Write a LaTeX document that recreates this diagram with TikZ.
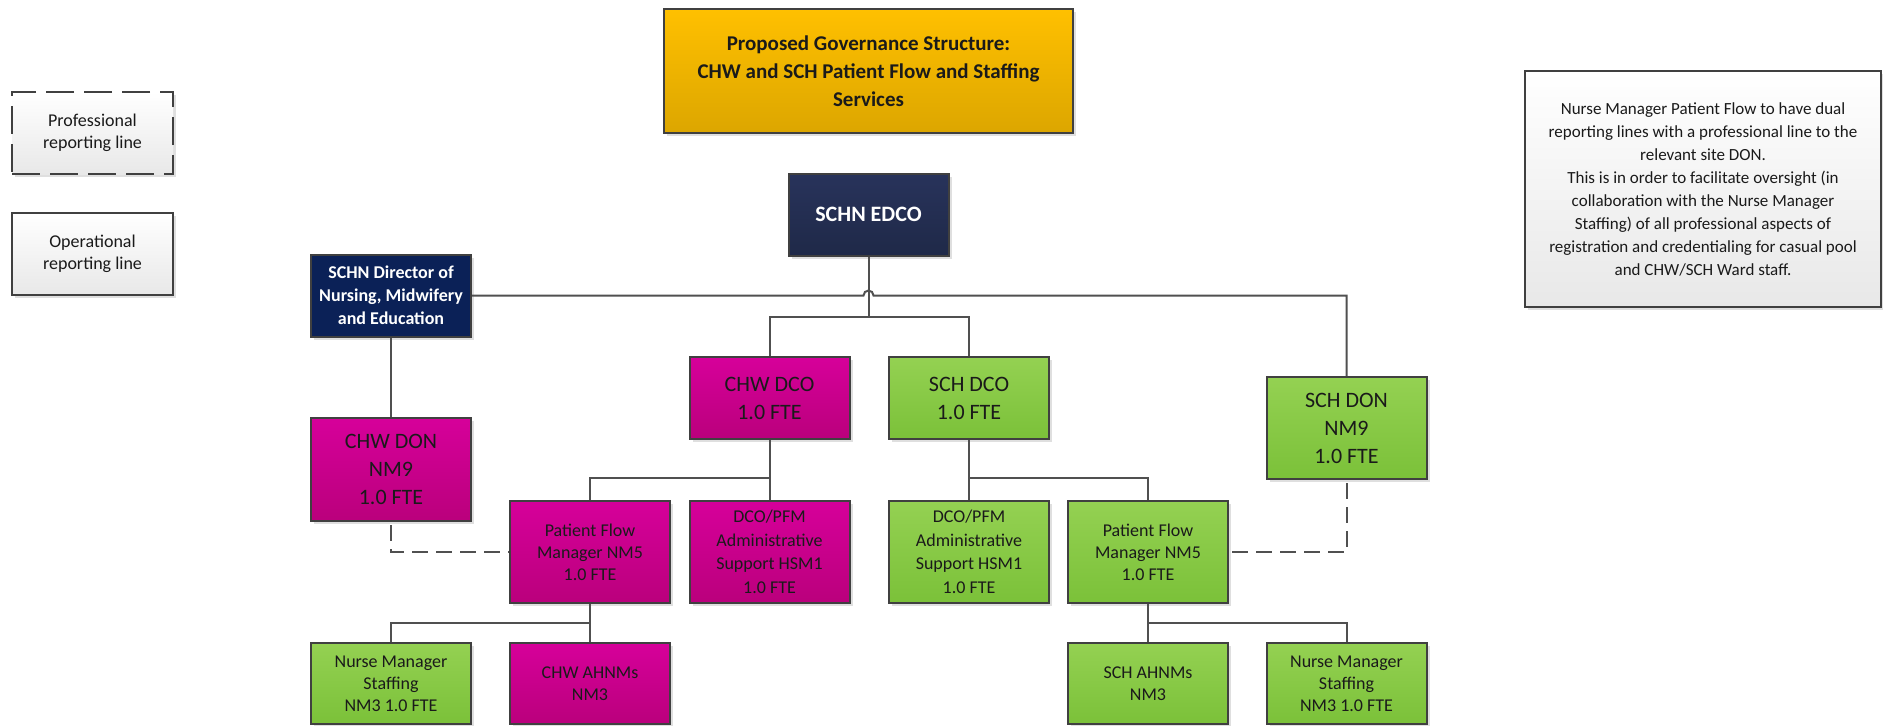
\documentclass[tikz,border=0pt]{standalone}
\usepackage{fontspec}
\setmainfont{Carlito}
\usetikzlibrary{shadows,calc}

\definecolor{boxline}{HTML}{404040}
\definecolor{wire}{HTML}{505050}
\definecolor{goldtop}{HTML}{FFC000}
\definecolor{goldbot}{HTML}{DCA600}
\definecolor{navytop}{HTML}{28335B}
\definecolor{navybot}{HTML}{1F2948}
\definecolor{deepblue}{HTML}{0B2157}
\definecolor{magtop}{HTML}{D6009A}
\definecolor{magbot}{HTML}{BA007C}
\definecolor{grntop}{HTML}{94D152}
\definecolor{grnbot}{HTML}{7BC139}
\definecolor{paletop}{HTML}{FFFFFF}
\definecolor{palebot}{HTML}{E8E8E8}
\definecolor{ink}{HTML}{1A1A1A}

\begin{document}
\begin{tikzpicture}[x=0.5pt,y=-0.5pt,
  base/.style={draw=boxline, line width=1pt, align=center, inner sep=2pt, text=ink,
    drop shadow={opacity=0.25, shadow xshift=1.5pt, shadow yshift=-1.5pt}},
  gold/.style={base, top color=goldtop, bottom color=goldbot},
  navy/.style={base, top color=navytop, bottom color=navybot, text=white},
  dblue/.style={base, fill=deepblue, text=white},
  mag/.style={base, top color=magtop, bottom color=magbot},
  grn/.style={base, top color=grntop, bottom color=grnbot},
  pale/.style={base, top color=paletop, bottom color=palebot},
  bigtxt/.style={font=\fontsize{11}{14}\selectfont},
  smalltxt/.style={font=\fontsize{9}{11}\selectfont},
  short/.style={minimum width=80pt, minimum height=41pt},
  tall/.style={minimum width=80pt, minimum height=51pt},
  conn/.style={draw=wire, line width=1pt},
  profline/.style={draw=wire, line width=1pt, dash pattern=on 8pt off 4pt},
]
\useasboundingbox (0,0) rectangle (1883,725);

% heading and legend
\node[gold, minimum width=204.5pt, minimum height=62pt,
      font=\bfseries\fontsize{10.5}{14}\selectfont] (title) at (868.5,71)
  {Proposed Governance Structure:\\CHW and SCH Patient Flow and Staffing\\Services};
\node[pale, smalltxt, minimum width=80.5pt, minimum height=41pt,
      dash pattern=on 14pt off 5pt] (legprof) at (92.5,133) {Professional\\reporting line};
\node[pale, smalltxt, minimum width=80.5pt, minimum height=41pt] (legoper) at (92.5,254)
  {Operational\\reporting line};
\node[pale, font=\fontsize{8.5}{11.5}\selectfont, minimum width=178pt, minimum height=118pt]
  (note) at (1703,189)
  {Nurse Manager Patient Flow to have dual\\reporting lines with a professional line to the\\relevant site DON.\\This is in order to facilitate oversight (in\\collaboration with the Nurse Manager\\Staffing) of all professional aspects of\\registration and credentialing for casual pool\\and CHW/SCH Ward staff.};

% top of the structure
\node[navy, short, font=\bfseries\fontsize{11}{14}\selectfont] (edco) at (868.5,214.5) {SCHN EDCO};
\node[dblue, short, font=\bfseries\fontsize{9}{11.5}\selectfont] (dir) at (391,295.5)
  {SCHN Director of\\Nursing, Midwifery\\and Education};

% second tier
\node[mag, short, bigtxt] (chwdco) at (769.5,398) {CHW DCO\\1.0 FTE};
\node[grn, short, bigtxt] (schdco) at (969,398) {SCH DCO\\1.0 FTE};
\node[mag, minimum width=80pt, minimum height=51.5pt, bigtxt] (chwdon) at (391,469.5) {CHW DON\\NM9\\1.0 FTE};
\node[grn, tall, bigtxt] (schdon) at (1346.5,428) {SCH DON\\NM9\\1.0 FTE};

% third tier
\node[mag, tall, smalltxt] (chwpfm) at (590,552) {Patient Flow\\Manager NM5\\1.0 FTE};
\node[mag, tall, font=\fontsize{9}{11.8}\selectfont] (chwadm) at (769.5,552)
  {DCO/PFM\\Administrative\\Support HSM1\\1.0 FTE};
\node[grn, tall, font=\fontsize{9}{11.8}\selectfont] (schadm) at (969,552)
  {DCO/PFM\\Administrative\\Support HSM1\\1.0 FTE};
\node[grn, tall, smalltxt] (schpfm) at (1148,552) {Patient Flow\\Manager NM5\\1.0 FTE};

% fourth tier
\node[grn, minimum width=80pt, minimum height=40.5pt, smalltxt] (nmsl) at (391,683.5)
  {Nurse Manager\\Staffing\\NM3 1.0 FTE};
\node[mag, minimum width=80pt, minimum height=40.5pt, smalltxt] (chwahn) at (590,683.5)
  {CHW AHNMs\\NM3};
\node[grn, minimum width=80pt, minimum height=40.5pt, smalltxt] (schahn) at (1148,683.5)
  {SCH AHNMs\\NM3};
\node[grn, minimum width=80pt, minimum height=40.5pt, smalltxt] (nmsr) at (1346.5,683.5)
  {Nurse Manager\\Staffing\\NM3 1.0 FTE};

% bus levels
\coordinate (busA) at (0,317);
\coordinate (busB) at (0,478);
\coordinate (busC) at (0,623);

% operational lines
\draw[conn] (dir.east) -- ($(edco.south |- dir.east)+(-2.5pt,0)$)
  arc[start angle=180, end angle=0, radius=2.5pt]
  -- (schdon.north |- dir.east) -- (schdon.north);
\draw[conn] (edco.south) -- (edco.south |- busA) -| (chwdco.north);
\draw[conn] (edco.south |- busA) -| (schdco.north);
\draw[conn] (dir.south) -- (chwdon.north);
\draw[conn] (chwdco.south) -- (chwadm.north);
\draw[conn] (chwdco.south |- busB) -| (chwpfm.north);
\draw[conn] (schdco.south) -- (schadm.north);
\draw[conn] (schdco.south |- busB) -| (schpfm.north);
\draw[conn] (chwpfm.south) -- (chwahn.north);
\draw[conn] (chwpfm.south |- busC) -| (nmsl.north);
\draw[conn] (schpfm.south) -- (schahn.north);
\draw[conn] (schpfm.south |- busC) -| (nmsr.north);

% professional lines
\draw[profline] ([yshift=-1.5pt]chwdon.south) |- (chwpfm.west);
\draw[profline] ([yshift=-1.5pt]schdon.south) |- (schpfm.east);
\end{tikzpicture}
\end{document}
